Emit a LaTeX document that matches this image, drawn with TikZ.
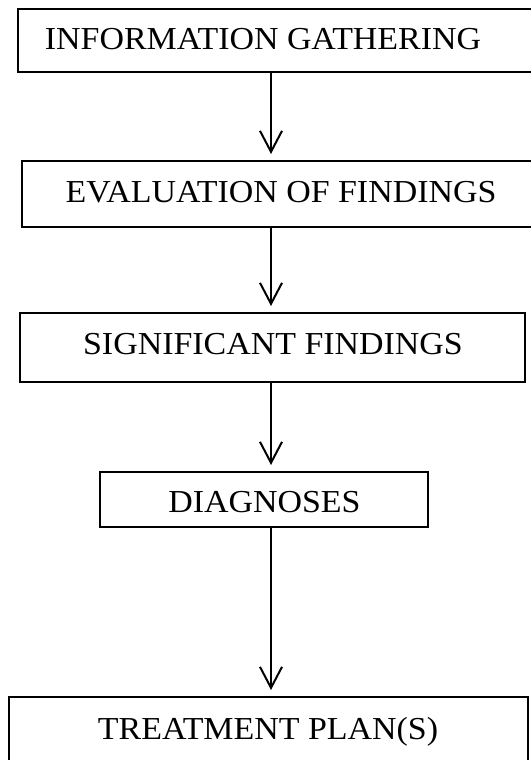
\documentclass[tikz,border=0pt]{standalone}
\usepackage{fontspec}
\setmainfont{Liberation Serif}
\usetikzlibrary{arrows.meta}
\tikzset{
  box/.style={draw=black, line width=2pt, inner sep=0pt},
  lbl/.style={anchor=base, inner sep=0pt, font=\fontsize{32}{36}\selectfont},
  flow/.style={line width=2.2pt, -{Straight Barb[length=21pt,width=22pt,line width=2pt]}, shorten >=6pt}
}
\newcommand{\widetxt}[1]{\scalebox{1.06}[1]{#1}}
\begin{document}
\begin{tikzpicture}[x=1pt,y=1pt]
\useasboundingbox (0,0) rectangle (530,-760);
% boxes
\node[box, minimum width=522pt, minimum height=63pt] (b1) at (279,-40.5) {};
\node[box, minimum width=518pt, minimum height=66pt] (b2) at (281,-194) {};
\node[box, minimum width=505pt, minimum height=69pt] (b3) at (272.5,-347.5) {};
\node[box, minimum width=328pt, minimum height=55pt] (b4) at (264,-499.5) {};
\node[box, minimum width=519pt, minimum height=73pt] (b5) at (268.5,-733.5) {};
% labels
\node[lbl] (t1) at (263,-50) {\widetxt{INFORMATION GATHERING}};
\node[lbl] (t2) at (281,-202) {\widetxt{EVALUATION OF FINDINGS}};
\node[lbl] (t3) at (273,-354) {\widetxt{SIGNIFICANT FINDINGS}};
\node[lbl] (t4) at (264.5,-512) {\widetxt{DIAGNOSES}};
\node[lbl] (t5) at (268,-739) {\widetxt{TREATMENT PLAN(S)}};
% connectors
\coordinate (ax) at (271,0);
\draw[flow] (b1.south -| ax) -- (b2.north -| ax);
\draw[flow] (b2.south -| ax) -- (b3.north -| ax);
\draw[flow] (b3.south -| ax) -- (b4.north -| ax);
\draw[flow] (b4.south -| ax) -- (b5.north -| ax);
\end{tikzpicture}
\end{document}
